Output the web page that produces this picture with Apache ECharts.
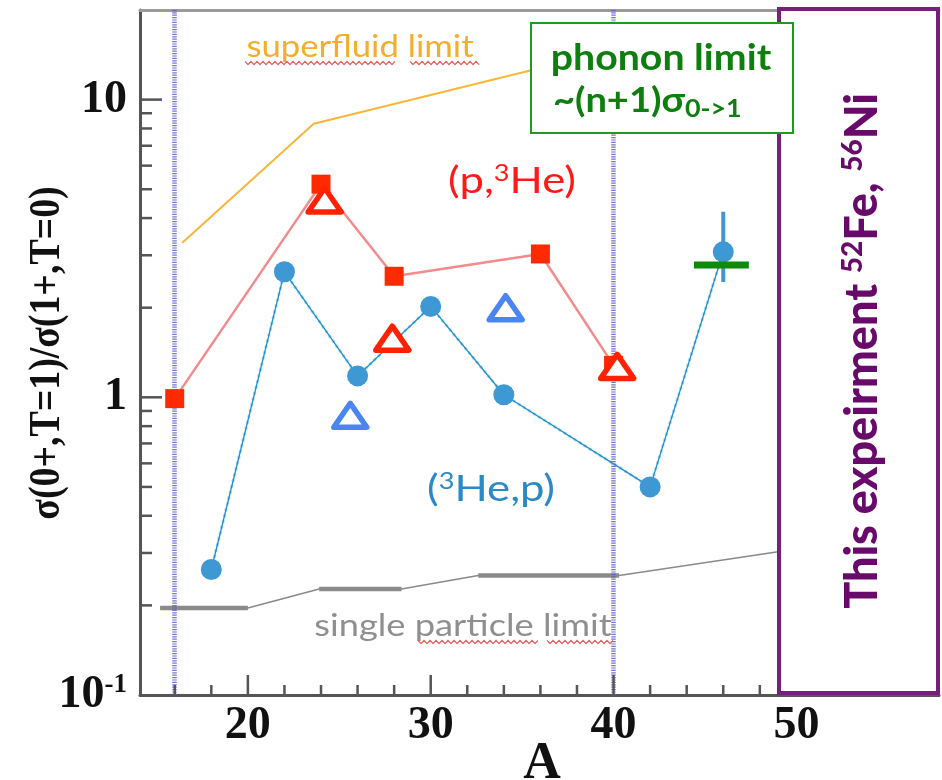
<!DOCTYPE html>
<html><head><meta charset="utf-8">
<script src="https://cdn.jsdelivr.net/npm/echarts@6/dist/echarts.min.js"></script>
<style>html,body{margin:0;padding:0;background:#fff}#c{width:942px;height:780px}</style>
</head><body><div id="c"></div>
<script>
// ---------- data ----------
const pHeA = [16, 24, 28, 36, 40];
const pHeV = [0.99, 5.2, 2.55, 3.03, 1.28];
const pHeTriA = [24.2, 27.9, 40.2];
const pHeTriV = [4.6, 1.58, 1.27];
const hePA = [18, 22, 26, 30, 34, 42, 46];
const hePV = [0.264, 2.64, 1.18, 2.02, 1.02, 0.50, 3.08];
const blueTriA = [25.6, 34.1];
const blueTriV = [0.87, 2.0];
const errA = [46];
const errLo = [2.44];
const errHi = [4.2];
const superA = [16.4, 23.6, 36.5];
const superV = [3.3, 8.3, 13.0];
const spA = [15.2, 20, 23.9, 28.4, 32.6, 40.3, 49];
const spV = [0.196, 0.196, 0.227, 0.227, 0.252, 0.252, 0.303];
const spSegStart = [15.2, 23.9, 32.6];
const spSegEnd = [20, 28.4, 40.3];
const spSegV = [0.196, 0.227, 0.252];
const phononA = [44.4, 47.4];
const phononV = [2.78, 2.78];
const shellA = [16, 40];
const xMajorTicks = [20, 30, 40];
const xMinorTicks = [16, 18, 22, 24, 26, 28, 32, 34, 36, 38, 42, 44, 46, 48];
const yMajorTicks = [1, 10];
const yMinorTicks = [0.2, 0.3, 0.4, 0.5, 0.6, 0.7, 0.8, 0.9, 2, 3, 4, 5, 6, 7, 8, 9];

// ---------- config ----------
const X_MIN = 14.1, X_MAX = 57.8, Y_MIN = 0.1, Y_MAX = 20;
const SERIF = '"Liberation Serif", "DejaVu Serif", serif';
const SANS = 'Lato, "Open Sans", sans-serif';
const AX = '#555';

const zip = (a, b) => a.map((x, i) => [x, b[i]]);

function xTickSeries(ticks, len) {
  return {
    type: 'custom', silent: true, z: 5,
    data: ticks.map(t => [t, Y_MIN]),
    renderItem: (p, api) => {
      const c = api.coord([api.value(0), api.value(1)]);
      return { type: 'line', shape: { x1: c[0], y1: c[1], x2: c[0], y2: c[1] - len },
        style: { stroke: AX, lineWidth: 2.5 } };
    }
  };
}
function yTickSeries(ticks, len) {
  return {
    type: 'custom', silent: true, z: 5,
    data: ticks.map(t => [X_MIN, t]),
    renderItem: (p, api) => {
      const c = api.coord([api.value(0), api.value(1)]);
      return { type: 'line', shape: { x1: c[0], y1: c[1], x2: c[0] + len, y2: c[1] },
        style: { stroke: AX, lineWidth: 2.5 } };
    }
  };
}
// open triangle markers drawn through the axes' coordinate system
function triangleSeries(xs, ys, color) {
  return {
    type: 'custom', silent: true, z: 6,
    data: zip(xs, ys),
    renderItem: (p, api) => {
      const c = api.coord([api.value(0), api.value(1)]);
      const hw = 16.5, hh = 12;
      return { type: 'polygon',
        shape: { points: [[c[0], c[1] - hh], [c[0] + hw, c[1] + hh], [c[0] - hw, c[1] + hh]] },
        style: { fill: '#fff', stroke: color, lineWidth: 5.5, lineJoin: 'round' } };
    }
  };
}
// spell-check style squiggle (decoration only)
function squiggle(x0, x1, y) {
  const pts = [];
  let up = true;
  for (let x = x0; x <= x1; x += 3) { pts.push([x, up ? y - 1.6 : y + 1.6]); up = !up; }
  return { type: 'polyline', z: 100, shape: { points: pts }, style: { stroke: '#ea5a5a', lineWidth: 1.3, fill: null } };
}

const series = [
  { type: 'line', data: zip(spA, spV), symbol: 'none', lineStyle: { color: '#8a8a8a', width: 1.5 }, z: 2,
    markLine: { silent: true, symbol: 'none', label: { show: false },
      lineStyle: { color: '#5a5ace', width: 4.5, type: [1.2, 1.2], opacity: 0.85 },
      data: shellA.map(a => ({ xAxis: a })) } },
  { type: 'line', data: zip(superA, superV), symbol: 'none', lineStyle: { color: '#f6b73c', width: 2 }, z: 2 },
  { type: 'line', data: zip(hePA, hePV), symbol: 'none', lineStyle: { color: '#a9d5f2', width: 3, type: 'dotted' }, z: 2 },
  { type: 'line', data: zip(hePA, hePV), symbol: 'circle', symbolSize: 21,
    itemStyle: { color: '#3d98d3' }, lineStyle: { color: '#1a8fc9', width: 1.3 }, z: 4 },
  { type: 'line', data: [[errA[0], errLo[0]], [errA[0], errHi[0]]], symbol: 'none',
    lineStyle: { color: '#3d98d3', width: 4 }, z: 4 },
  { type: 'line', data: zip(pHeA, pHeV), symbol: 'rect', symbolSize: 19,
    itemStyle: { color: '#ff2a00' }, lineStyle: { color: '#f28b8b', width: 2.5 }, z: 5 },
  triangleSeries(pHeTriA, pHeTriV, '#ff2200'),
  triangleSeries(blueTriA, blueTriV, '#4a86f2'),
  { type: 'line', data: zip(phononA, phononV), symbol: 'none', lineStyle: { color: '#0f8a0f', width: 7 }, z: 7 },
  xTickSeries(xMajorTicks, 20), xTickSeries(xMinorTicks, 10),
  yTickSeries(yMajorTicks, 22), yTickSeries(yMinorTicks, 12)
];
spSegStart.forEach((s, i) => {
  series.push({ type: 'line', data: [[s, spSegV[i]], [spSegEnd[i], spSegV[i]]], symbol: 'none',
    lineStyle: { color: '#8a8a8a', width: 4.5 }, z: 3 });
});

const option = {
  animation: false,
  backgroundColor: '#fff',
  grid: { left: 140, top: 10, right: 2, bottom: 85 },
  xAxis: [{
    type: 'value', min: X_MIN, max: X_MAX, splitLine: { show: false },
    axisLine: { lineStyle: { color: AX, width: 3 } }, axisTick: { show: false },
    axisLabel: { margin: 8, color: '#111', fontFamily: SERIF, fontWeight: 'bold', fontSize: 46,
      formatter: v => (Math.abs(v % 10) < 1e-9 ? String(v) : '') }
  }, {
    type: 'value', position: 'top', min: X_MIN, max: X_MAX, splitLine: { show: false },
    axisLine: { show: true, lineStyle: { color: '#9a9a9a', width: 3 } }, axisTick: { show: false }, axisLabel: { show: false }
  }],
  yAxis: {
    type: 'log', logBase: 10, min: Y_MIN, max: Y_MAX, splitLine: { show: false },
    axisLine: { show: true, lineStyle: { color: AX, width: 3 } }, axisTick: { show: false },
    axisLabel: {
      margin: 13,
      formatter: v => {
        const l = Math.log10(v);
        if (Math.abs(l - Math.round(l)) > 1e-6) return '';
        const e = Math.round(l);
        if (e === 0) return '{n|1}';
        if (e === 1) return '{n|10}';
        return '{n|10}{s|' + e + '}';
      },
      rich: {
        n: { fontFamily: SERIF, fontWeight: 'bold', fontSize: 46, color: '#111' },
        s: { fontFamily: SERIF, fontWeight: 'bold', fontSize: 27, color: '#111', verticalAlign: 'top', padding: [0, 0, 16, 0] }
      }
    }
  },
  series,
  graphic: [
    { type: 'text', z: 100, x: 48, y: 353, rotation: Math.PI / 2, scaleX: 0.86,
      style: { text: 'σ(0+,T=1)/σ(1+,T=0)', font: 'bold 44px ' + SERIF, fill: '#111', align: 'center', verticalAlign: 'middle' } },
    { type: 'text', z: 100, x: 542, y: 765,
      style: { text: 'A', font: 'bold 52px ' + SERIF, fill: '#111', align: 'center', verticalAlign: 'middle' } },
    { type: 'text', z: 100, x: 360, y: 47, scaleX: 1.12,
      style: { text: 'superfluid limit', font: '31px ' + SANS, fill: '#f2ae2c', align: 'center', verticalAlign: 'middle' } },
    squiggle(245, 397, 63), squiggle(410, 481, 63),
    { type: 'text', z: 100, x: 463, y: 626, scaleX: 1.17,
      style: { text: 'single particle limit', font: '31px ' + SANS, fill: '#8f8f8f', align: 'center', verticalAlign: 'middle' } },
    squiggle(418, 538, 642), squiggle(547, 615, 642),
    { type: 'text', z: 100, x: 512, y: 181, scaleX: 1.18,
      style: { text: '{a|(p,}{s|3}{a|He)}', align: 'center', verticalAlign: 'middle',
        rich: { a: { font: '37px ' + SANS, fill: '#ff1a1a', color: '#ff1a1a' },
                s: { font: '23px ' + SANS, fill: '#ff1a1a', color: '#ff1a1a', verticalAlign: 'top', padding: [0, 0, 15, 0] } } } },
    { type: 'text', z: 100, x: 491, y: 489, scaleX: 1.18,
      style: { text: '{a|(}{s|3}{a|He,p)}', align: 'center', verticalAlign: 'middle',
        rich: { a: { font: '37px ' + SANS, fill: '#2a8ac8', color: '#2a8ac8' },
                s: { font: '23px ' + SANS, fill: '#2a8ac8', color: '#2a8ac8', verticalAlign: 'top', padding: [0, 0, 15, 0] } } } },
    { type: 'rect', z: 90, shape: { x: 779, y: 9, width: 159, height: 684 },
      style: { fill: '#fff', stroke: '#74207c', lineWidth: 4 } },
    { type: 'text', z: 100, x: 862, y: 351, rotation: Math.PI / 2,
      style: { text: '{b|This expeirment }{s|52}{b|Fe, }{s|56}{b|Ni}', align: 'center', verticalAlign: 'middle',
        rich: { b: { font: '900 45px ' + SANS, fill: '#680a6a', color: '#680a6a' },
                s: { font: '900 28px ' + SANS, fill: '#680a6a', color: '#680a6a', verticalAlign: 'top', padding: [0, 0, 18, 0] } } } },
    { type: 'rect', z: 95, shape: { x: 531, y: 23, width: 262, height: 110 },
      style: { fill: '#fff', stroke: '#1f9a1f', lineWidth: 2 } },
    { type: 'text', z: 100, x: 661, y: 58, scaleX: 1.09,
      style: { text: 'phonon limit', font: 'bold 36px ' + SANS, fill: '#0e7e0e', align: 'center', verticalAlign: 'middle' } },
    { type: 'text', z: 100, x: 553, y: 101, scaleX: 1.12,
      style: { text: '{a|~(n+1)σ}{s|0->1}', align: 'left', verticalAlign: 'middle',
        rich: { a: { font: 'bold 34px ' + SANS, fill: '#0e7e0e', color: '#0e7e0e' },
                s: { font: 'bold 24px ' + SANS, fill: '#0e7e0e', color: '#0e7e0e', verticalAlign: 'bottom', padding: [16, 0, 0, 0] } } } }
  ]
};

const chart = echarts.init(document.getElementById('c'), null, { renderer: 'canvas' });
chart.setOption(option);
</script>
</body></html>
